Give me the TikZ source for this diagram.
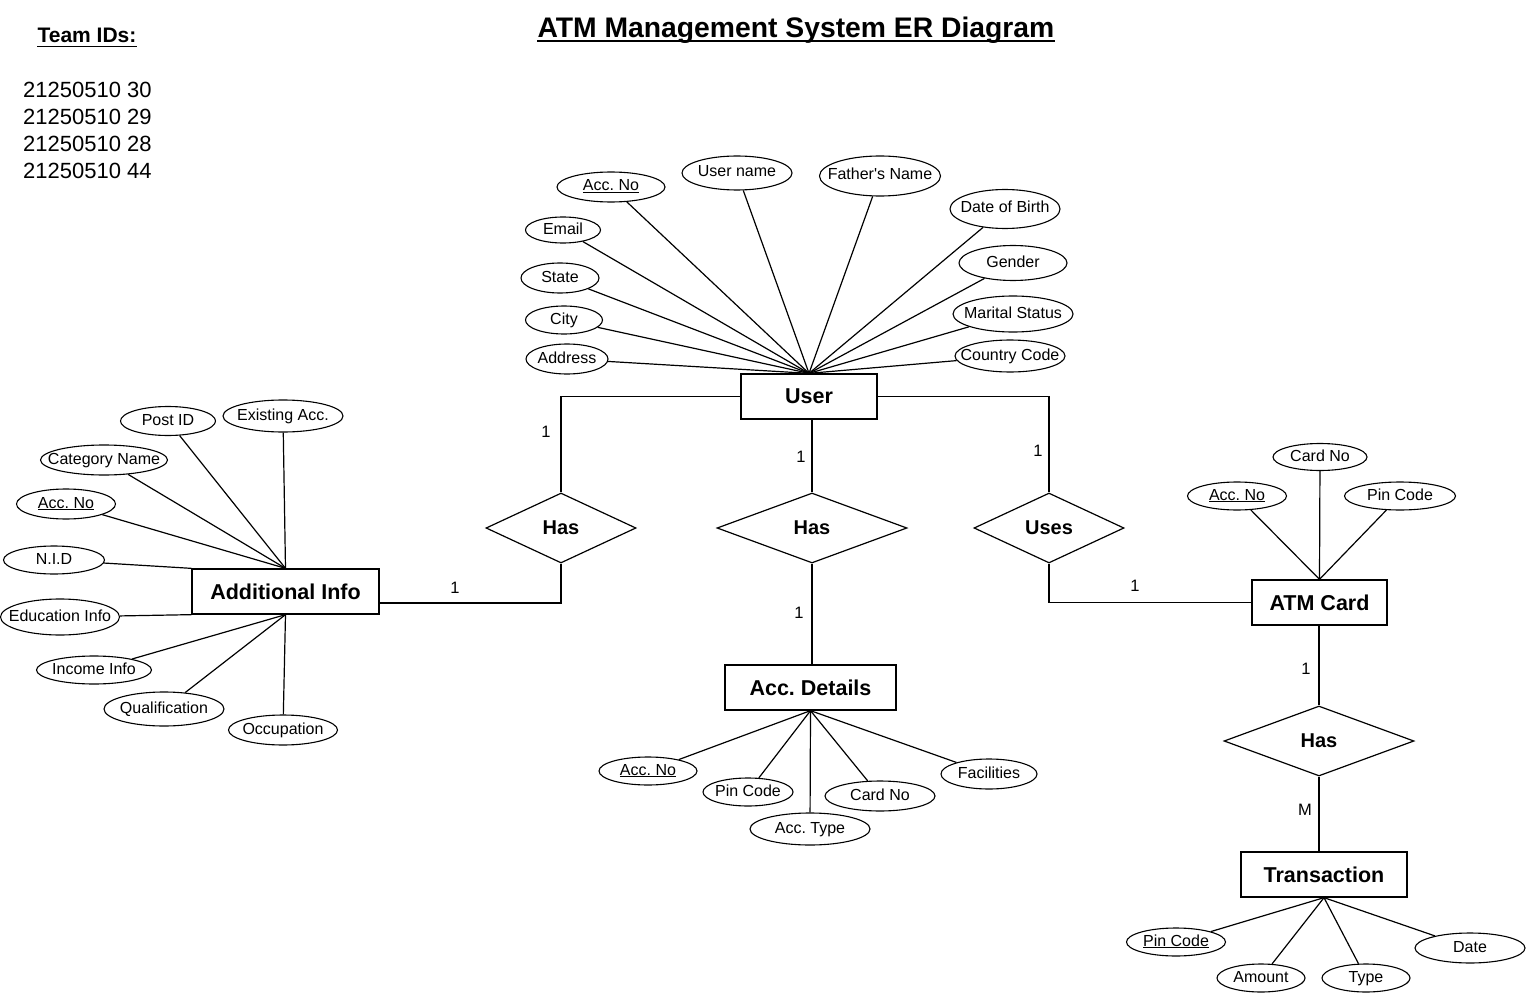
\documentclass[tikz,border=0pt]{standalone}
\usepackage{fontspec}
\setmainfont{Liberation Sans}
\usetikzlibrary{shapes.geometric}
\frenchspacing
\tikzset{
  attr/.style={ellipse, draw, line width=1.1pt, inner sep=0pt, fill=white,
    text height=11pt, text depth=3pt, font=\fontsize{16}{19}\selectfont},
  ent/.style={rectangle, draw, line width=1.3pt, inner sep=0pt, fill=white,
    minimum height=45, font=\bfseries\fontsize{21.5}{25}\selectfont},
  rel/.style={diamond, draw, line width=1.2pt, inner sep=0pt, fill=white,
    minimum height=70, font=\bfseries\fontsize{20}{23}\selectfont},
  cardlbl/.style={inner sep=0pt, font=\fontsize{16.5}{19}\selectfont},
  conn/.style={line width=1.2pt},
}
\newcommand{\at}[1]{\makebox[0pt]{#1}}
\begin{document}
\begin{tikzpicture}[x={(1pt,0)}, y={(0,-1pt)}]
\useasboundingbox (0,0) rectangle (1526,995);
\fill[white] (0,0) rectangle (1526,995);

% title and team ids
\node[inner sep=0pt, anchor=base, font=\bfseries\fontsize{28.3}{32}\selectfont] (title) at (796,38) {ATM Management System ER Diagram};
\draw[line width=2pt] ([yshift=-3.5pt]title.base west) -- ([yshift=-3.5pt]title.base east);
\node[inner sep=0pt, anchor=base, font=\bfseries\fontsize{21}{25}\selectfont] (team) at (87,43) {Team IDs:};
\draw[line width=1.8pt] ([yshift=-3.5pt]team.base west) -- ([yshift=-3.5pt]team.base east);
\node[inner sep=0pt, anchor=base west, font=\fontsize{22}{26}\selectfont] (id1) at (23,98) {21250510 30};
\node[inner sep=0pt, anchor=base west, font=\fontsize{22}{26}\selectfont] (id2) at (23,125) {21250510 29};
\node[inner sep=0pt, anchor=base west, font=\fontsize{22}{26}\selectfont] (id3) at (23,152) {21250510 28};
\node[inner sep=0pt, anchor=base west, font=\fontsize{22}{26}\selectfont] (id4) at (23,179) {21250510 44};

% entities
\node[ent, minimum width=136] (user) at (809,396.5) {User};
\node[ent, minimum width=187] (add) at (285.5,591.5) {Additional Info};
\node[ent, minimum width=171] (accd) at (810.5,687.5) {Acc. Details};
\node[ent, minimum width=135] (atm) at (1319.5,602.5) {ATM Card};
\node[ent, minimum width=166] (tra) at (1324,874.5) {Transaction};

% relationships
\node[rel, minimum width=150] (has1) at (561,528) {\at{Has}};
\node[rel, minimum width=190] (has2) at (812,528) {\at{Has}};
\node[rel, minimum width=150] (uses) at (1049,528) {\at{Uses}};
\node[rel, minimum width=190] (has3) at (1319,741) {\at{Has}};

% user attributes
\node[attr, minimum width=108, minimum height=30] (ua) at (611,187) {\at{\underline{Acc. No}}};
\node[attr, minimum width=110, minimum height=34] (un) at (737,173) {\at{User name}};
\node[attr, minimum width=121, minimum height=40] (uf) at (880,176) {\at{Father\textquotesingle s Name}};
\node[attr, minimum width=110, minimum height=39] (ud) at (1005,209) {\at{Date of Birth}};
\node[attr, minimum width=108, minimum height=35] (ug) at (1013,263) {\at{Gender}};
\node[attr, minimum width=120, minimum height=36] (um) at (1013,314) {\at{Marital Status}};
\node[attr, minimum width=110, minimum height=32] (uc) at (1010,356) {\at{Country Code}};
\node[attr, minimum width=75, minimum height=26] (ue) at (563,230) {\at{Email}};
\node[attr, minimum width=78, minimum height=30] (us) at (560,278) {\at{State}};
\node[attr, minimum width=77, minimum height=28] (uy) at (564,320) {\at{City}};
\node[attr, minimum width=82, minimum height=30] (uad) at (567,359) {\at{Address}};

% additional info attributes
\node[attr, minimum width=95, minimum height=29] (apo) at (168,421) {\at{Post ID}};
\node[attr, minimum width=120, minimum height=32] (aex) at (283,416) {\at{Existing Acc.}};
\node[attr, minimum width=127, minimum height=30] (aca) at (104,460) {\at{Category Name}};
\node[attr, minimum width=99, minimum height=30] (aac) at (66,504) {\at{\underline{Acc. No}}};
\node[attr, minimum width=101, minimum height=28] (ani) at (54,560) {\at{N.I.D}};
\node[attr, minimum width=119, minimum height=36] (aed) at (60,617) {\at{Education Info}};
\node[attr, minimum width=115, minimum height=28] (ain) at (94,670) {\at{Income Info}};
\node[attr, minimum width=120, minimum height=34] (aqu) at (164,709) {\at{Qualification}};
\node[attr, minimum width=109, minimum height=30] (aoc) at (283,730) {\at{Occupation}};

% acc details attributes
\node[attr, minimum width=98, minimum height=28] (da) at (648,771) {\at{\underline{Acc. No}}};
\node[attr, minimum width=90, minimum height=28] (dp) at (748,792) {\at{Pin Code}};
\node[attr, minimum width=120, minimum height=32] (dt) at (810,829) {\at{Acc. Type}};
\node[attr, minimum width=110, minimum height=30] (dc) at (880,796) {\at{Card No}};
\node[attr, minimum width=96, minimum height=30] (df) at (989,774) {\at{Facilities}};

% atm card attributes
\node[attr, minimum width=94, minimum height=27] (cc) at (1320,457) {\at{Card No}};
\node[attr, minimum width=99, minimum height=28] (ca) at (1237,496) {\at{\underline{Acc. No}}};
\node[attr, minimum width=111, minimum height=28] (cp) at (1400,496) {\at{Pin Code}};

% transaction attributes
\node[attr, minimum width=99, minimum height=28] (tp) at (1176,942) {\at{\underline{Pin Code}}};
\node[attr, minimum width=88, minimum height=28] (tam) at (1261,978) {\at{Amount}};
\node[attr, minimum width=88, minimum height=28] (tty) at (1366,978) {\at{Type}};
\node[attr, minimum width=110, minimum height=30] (tda) at (1470,948) {\at{Date}};

% attribute connectors
\foreach \n in {ua,un,uf,ud,ug,um,uc,ue,us,uy,uad} \draw[conn] (\n) -- (user.north);
\foreach \n in {apo,aex,aca,aac} \draw[conn] (\n) -- (add.north);
\draw[conn] (ani) -- (add.north west);
\draw[conn] (aed) -- (add.south west);
\foreach \n in {ain,aqu,aoc} \draw[conn] (\n) -- (add.south);
\foreach \n in {da,dp,dt,dc,df} \draw[conn] (\n) -- (accd.south);
\foreach \n in {cc,ca,cp} \draw[conn] (\n) -- (atm.north);
\foreach \n in {tp,tam,tty,tda} \draw[conn] (\n) -- (tra.south);

% relationship connectors
\draw[conn] (user.west) -| (has1.north);
\draw[conn] (has1.south) |- ([yshift=-11.5pt]add.east);
\draw[conn] (has2.north |- user.south) -- (has2.north);
\draw[conn] (has2.south) -- (has2.south |- accd.north);
\draw[conn] (user.east) -| (uses.north);
\draw[conn] (uses.south) |- (atm.west);
\draw[conn] (has3.north |- atm.south) -- (has3.north);
\draw[conn] (has3.south) -- (has3.south |- tra.north);

% cardinalities
\node[cardlbl] (c1) at (546,432) {1};
\node[cardlbl] (c2) at (455,588) {1};
\node[cardlbl] (c3) at (801,457) {1};
\node[cardlbl] (c4) at (799,613) {1};
\node[cardlbl] (c5) at (1038,451) {1};
\node[cardlbl] (c6) at (1135,586) {1};
\node[cardlbl] (c7) at (1306,669) {1};
\node[cardlbl] (c8) at (1305,810) {M};
\end{tikzpicture}
\end{document}
